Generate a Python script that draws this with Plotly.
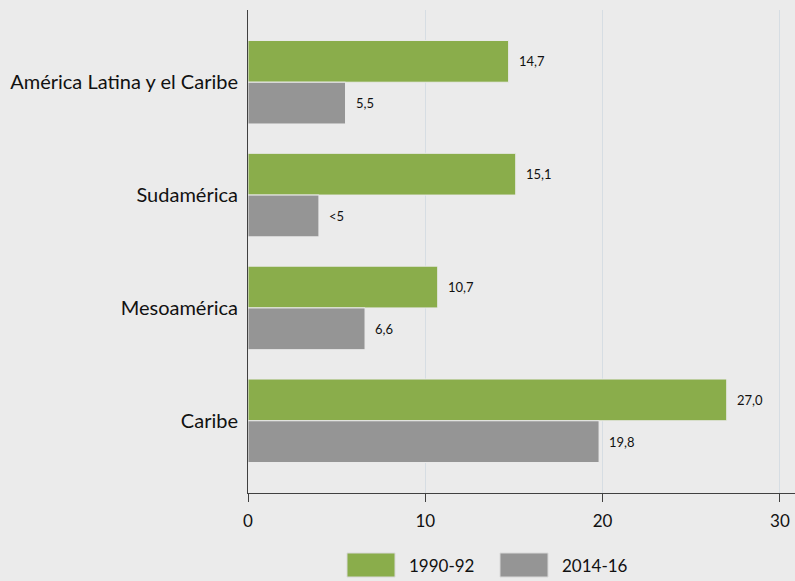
import plotly.graph_objects as go

categories = ["América Latina y el Caribe", "Sudamérica", "Mesoamérica", "Caribe"]
series_names = ["1990-92", "2014-16"]
values_1990 = [14.7, 15.1, 10.7, 27.0]
values_2014 = [5.5, 4.0, 6.6, 19.8]
labels_1990 = ["14,7", "15,1", "10,7", "27,0"]
labels_2014 = ["5,5", "<5", "6,6", "19,8"]
x_ticks = [0, 10, 20, 30]

GREEN = "#8aad4b"
GRAY = "#959595"
BG = "#ebebeb"
FONT = "Lato"

fig = go.Figure()
fig.add_trace(go.Bar(y=categories, x=values_1990, orientation="h", name=series_names[0],
                     marker=dict(color=GREEN, line=dict(color=BG, width=1)), showlegend=False))
fig.add_trace(go.Bar(y=categories, x=values_2014, orientation="h", name=series_names[1],
                     marker=dict(color=GRAY, line=dict(color=BG, width=1)), showlegend=False))

# value labels
for i, (v, t) in enumerate(zip(values_1990, labels_1990)):
    fig.add_annotation(x=v, y=i - 0.185, xref="x", yref="y", text=t, showarrow=False,
                       xanchor="left", xshift=8, font=dict(family=FONT, size=13, color="#111"))
for i, (v, t) in enumerate(zip(values_2014, labels_2014)):
    fig.add_annotation(x=v, y=i + 0.185, xref="x", yref="y", text=t, showarrow=False,
                       xanchor="left", xshift=8, font=dict(family=FONT, size=13, color="#111"))

# custom legend
legend_items = [(series_names[0], GREEN, 99), (series_names[1], GRAY, 252)]
for name, col, px in legend_items:
    fig.add_shape(type="rect", xref="paper", yref="paper", xsizemode="pixel", ysizemode="pixel",
                  xanchor=0, yanchor=0, x0=px, x1=px + 48, y0=-60, y1=-84,
                  fillcolor=col, line=dict(color="#d8d8d8", width=1))
    fig.add_annotation(x=0, y=0, xref="paper", yref="paper", xshift=px + 60, yshift=-72,
                       text=name, showarrow=False, xanchor="left", yanchor="middle",
                       font=dict(family=FONT, size=17, color="#111"))

fig.update_layout(
    width=795, height=581,
    margin=dict(l=248, r=0, t=10, b=88),
    paper_bgcolor=BG, plot_bgcolor=BG,
    barmode="group", bargap=0.26, bargroupgap=0,
    font=dict(family=FONT, size=17, color="#111"),
    xaxis=dict(range=[0, 30.85], tickvals=x_ticks, ticks="outside", ticklen=8,
               tickcolor="#404040", showline=True, linecolor="#404040", linewidth=1,
               showgrid=True, gridcolor="#d6dde3", gridwidth=1, zeroline=False,
               ticklabelstandoff=5, tickfont=dict(family=FONT, size=17)),
    yaxis=dict(range=[3.64, -0.64], showline=True, linecolor="#404040", linewidth=1,
               showgrid=False, ticks="", ticklabelstandoff=5, tickfont=dict(family=FONT, size=20)),
)

fig.write_html("out.html", config={"displayModeBar": False},
               post_script="document.body.style.margin='0';document.body.style.background='#ebebeb';")
